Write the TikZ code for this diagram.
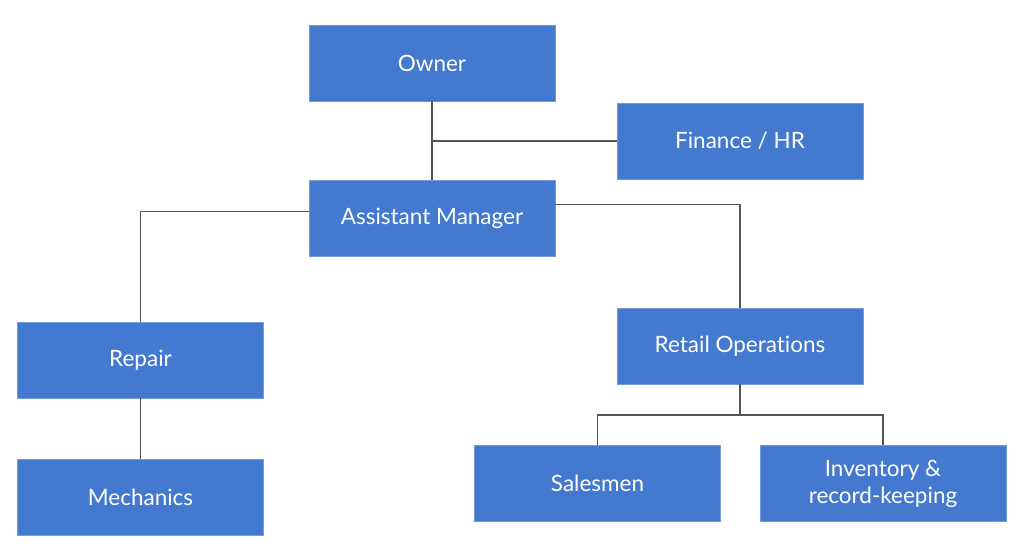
\documentclass[tikz,border=0pt]{standalone}
\usepackage{fontspec}
\setmainfont{Lato}[Ligatures=NoCommon]
\definecolor{boxblue}{HTML}{4479D0}
\definecolor{linegray}{HTML}{555555}
\tikzset{
  unit/.style={rectangle, minimum width=246pt, minimum height=76pt, inner sep=0pt,
    fill=boxblue, draw=boxblue!75!white, line width=0.6pt, text=white, align=center,
    font=\fontsize{22.5}{27}\selectfont},
  conn/.style={draw=linegray, line width=1.9pt}
}
\begin{document}
\begin{tikzpicture}[x=1pt,y=-1pt]
\useasboundingbox (0,0) rectangle (1024,551);
\node[unit] (owner) at (432,63) {Owner};
\node[unit] (fin) at (740,141) {Finance / HR};
\node[unit] (asst) at (432,218.5) {Assistant Manager};
\node[unit] (repair) at (140.5,360) {Repair};
\node[unit] (mech) at (140.5,497) {Mechanics};
\node[unit] (retail) at (740,346) {Retail Operations};
\node[unit] (sales) at (597.5,483.5) {Salesmen};
\node[unit] (inv) at (883,483.5) {Inventory \&\\record-keeping};
\coordinate (bus) at (740,415);
\draw[conn] (owner.south) -- (asst.north);
\draw[conn] (fin.west) -- (fin.west -| owner.south);
\draw[conn] ([yshift=7pt]asst.west) -| (repair.north);
\draw[conn] ([yshift=14pt]asst.east) -| (retail.north);
\draw[conn] (repair.south) -- (mech.north);
\draw[conn] (retail.south) -- (bus);
\draw[conn] (sales.north) |- (bus) -| (inv.north);
\end{tikzpicture}
\end{document}
